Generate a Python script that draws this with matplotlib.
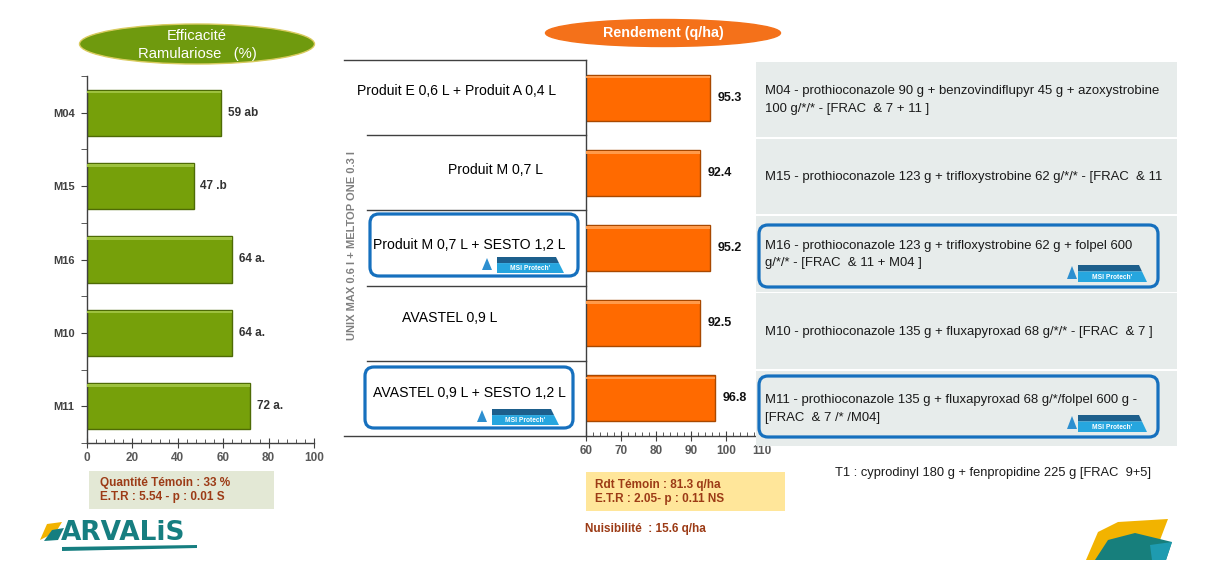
import matplotlib
matplotlib.use("Agg")
import matplotlib.pyplot as plt
from matplotlib.patches import Ellipse, FancyBboxPatch, Polygon, Rectangle
import numpy as np

W, H = 1213, 567

# ---------------- data ----------------
modalities = ["M04", "M15", "M16", "M10", "M11"]
efficacite = [59, 47, 64, 64, 72]
efficacite_labels = ["59 ab", "47 .b", "64 a.", "64 a.", "72 a."]
rendement = [95.3, 92.4, 95.2, 92.5, 96.8]
rendement_labels = ["95.3", "92.4", "95.2", "92.5", "96.8"]
produits = ["Produit E 0,6 L + Produit A 0,4 L", "Produit M 0,7 L",
            "Produit M 0,7 L + SESTO 1,2 L", "AVASTEL 0,9 L",
            "AVASTEL 0,9 L + SESTO 1,2 L"]
compositions = [
    "M04 - prothioconazole 90 g + benzovindiflupyr 45 g + azoxystrobine\n100 g/*/* - [FRAC  & 7 + 11 ]",
    "M15 - prothioconazole 123 g + trifloxystrobine 62 g/*/* - [FRAC  & 11",
    "M16 - prothioconazole 123 g + trifloxystrobine 62 g + folpel 600\ng/*/* - [FRAC  & 11 + M04 ]",
    "M10 - prothioconazole 135 g + fluxapyroxad 68 g/*/* - [FRAC  & 7 ]",
    "M11 - prothioconazole 135 g + fluxapyroxad 68 g/*/folpel 600 g -\n[FRAC  & 7 /* /M04]",
]
msi_protech = [False, False, True, False, True]
eff_ticks = [0, 20, 40, 60, 80, 100]
rdt_ticks = [60, 70, 80, 90, 100, 110]
eff_title = "Efficacité\nRamulariose   (%)"
rdt_title = "Rendement (q/ha)"
t1_text = "T1 : cyprodinyl 180 g + fenpropidine 225 g [FRAC  9+5]"
base_text = "UNIX MAX 0.6 l + MELTOP ONE 0.3 l"
eff_info = "Quantité Témoin : 33 %\nE.T.R : 5.54 - p : 0.01 S"
rdt_info = "Rdt Témoin : 81.3 q/ha\nE.T.R : 2.05- p : 0.11 NS"
nuis_text = "Nuisibilité  : 15.6 q/ha"

FONT = "Liberation Sans"
plt.rcParams["font.family"] = [FONT, "DejaVu Sans"]

fig = plt.figure(figsize=(W / 100, H / 100), dpi=100)
fig.patch.set_facecolor("white")


def rect(x0, y0, x1, y1):
    return [x0 / W, 1 - y1 / H, (x1 - x0) / W, (y1 - y0) / H]


y = np.arange(len(modalities))
dark = "#404040"
tick_col = "#595959"
brown = "#9C3B16"

# ---------------- left chart: efficacité ----------------
ax1 = fig.add_axes(rect(87, 76, 314, 443))
ax1.barh(y, efficacite, height=0.63, color="#76A00A", edgecolor="#4E6B05", linewidth=1.0, zorder=2)
ax1.barh(y - 0.283, efficacite, height=0.035, color="#9DC13E", edgecolor="none", zorder=3)
ax1.set_xlim(0, 100)
ax1.set_ylim(4.5, -0.5)
ax1.set_yticks(y, modalities)
ax1.set_yticks(np.arange(-0.5, 5, 1), minor=True)
ax1.set_xticks(eff_ticks)
ax1.set_xticks(np.arange(0, 101, 4), minor=True)
ax1.tick_params(axis="y", which="both", direction="out", length=4, color=dark, pad=5,
                labelsize=8, labelcolor=dark)
ax1.tick_params(axis="x", which="major", direction="inout", length=7, color=dark,
                labelsize=8.5, labelcolor=tick_col, pad=3)
ax1.tick_params(axis="x", which="minor", direction="in", length=3, color=dark)
for lab in ax1.get_yticklabels() + ax1.get_xticklabels():
    lab.set_fontweight("bold")
for s in ["top", "right"]:
    ax1.spines[s].set_visible(False)
for s in ["left", "bottom"]:
    ax1.spines[s].set_color(dark)
    ax1.spines[s].set_linewidth(1.0)
for i, (v, lab) in enumerate(zip(efficacite, efficacite_labels)):
    ax1.text(v + 3, i, lab, va="center", ha="left", fontsize=8.5, fontweight="bold", color="#333333")
ax1.patch.set_alpha(0)

# ---------------- right chart: rendement ----------------
ax2 = fig.add_axes(rect(586, 60, 761.5, 436))
ax2.barh(y, rendement, height=0.61, color="#FF6A00", edgecolor="#A84800", linewidth=1.0, zorder=2)
ax2.barh(y - 0.273, rendement, height=0.035, color="#FF9A4A", edgecolor="none", zorder=3)
ax2.set_xlim(60, 110)
ax2.set_ylim(4.5, -0.5)
ax2.set_yticks(y, [""] * len(y))
ax2.set_xticks(rdt_ticks)
ax2.set_xticks(np.arange(60, 111, 2), minor=True)
ax2.tick_params(axis="y", which="both", direction="in", length=3, color=dark)
ax2.tick_params(axis="x", which="major", direction="inout", length=7, color=dark,
                labelsize=8.5, labelcolor=tick_col, pad=3)
ax2.tick_params(axis="x", which="minor", direction="in", length=3, color=dark)
for lab in ax2.get_xticklabels():
    lab.set_fontweight("bold")
for s in ["top", "right"]:
    ax2.spines[s].set_visible(False)
for s in ["left", "bottom"]:
    ax2.spines[s].set_color(dark)
    ax2.spines[s].set_linewidth(1.0)
for i, (v, lab) in enumerate(zip(rendement, rendement_labels)):
    ax2.text(v + 2.2, i, lab, va="center", ha="left", fontsize=9, fontweight="bold", color="#111111")
ax2.patch.set_alpha(0)

# ---------------- overlay for decorations ----------------
ov = fig.add_axes([0, 0, 1, 1], zorder=5)
ov.set_xlim(0, W)
ov.set_ylim(H, 0)
ov.axis("off")
ov.patch.set_alpha(0)

# title ellipses
ov.add_patch(Ellipse((197, 44), 235, 40, facecolor="#6F9A0E", edgecolor="#D9CB5E", linewidth=1.0))
ov.text(197, 45, eff_title, ha="center", va="center", color="white", fontsize=10.6, linespacing=1.4)
ov.add_patch(Ellipse((663, 33), 235, 27, facecolor="#F4711A", edgecolor="#F4711A", linewidth=1.0))
ov.text(663, 33, rdt_title, ha="center", va="center", color="white", fontsize=10.3, fontweight="bold")

# table lines (middle)
row_h = (436 - 60) / 5
bounds = [60 + k * row_h for k in range(6)]
ov.plot([344, 586], [bounds[0], bounds[0]], color=dark, lw=1.0)
for b in bounds[1:5]:
    ov.plot([367, 586], [b, b], color=dark, lw=1.0)
ov.plot([344, 586], [bounds[5], bounds[5]], color=dark, lw=1.0)

ov.text(352, 245, base_text, rotation=90, ha="center", va="center", fontsize=8,
        fontweight="bold", color="#7F7F7F")

prod_pos = [(457, 91), (495, 170), (469, 245), (450, 318), (469, 393)]
for (px, py), txt in zip(prod_pos, produits):
    ov.text(px, py, txt, ha="center", va="center", fontsize=10.1, color="black")

blue = "#1670BE"


def rbox(x0, y0, x1, y1):
    ov.add_patch(FancyBboxPatch((x0, y0), x1 - x0, y1 - y0,
                                boxstyle="round,pad=0,rounding_size=9",
                                facecolor="none", edgecolor=blue, linewidth=2.3, zorder=6))


def badge(tx, x0, x1, y0, y1):
    ov.add_patch(Polygon([(tx - 5, y1 - 3), (tx, y0 + 1), (tx + 5, y1 - 3)], closed=True,
                         facecolor="#2D8FD0", edgecolor="none", zorder=7))
    ym = y0 + (y1 - y0) * 0.38
    ov.add_patch(Polygon([(x0, ym), (x0, y0), (x1 - 8, y0), (x1 - 5, ym)], closed=True,
                         facecolor="#1D5F8C", edgecolor="none", zorder=7))
    ov.add_patch(Polygon([(x0, y1), (x0, ym), (x1 - 5, ym), (x1, y1)], closed=True,
                         facecolor="#26A6DF", edgecolor="none", zorder=7))
    ov.text((x0 + x1) / 2, (ym + y1) / 2 + 0.5, "MSI Protech'", ha="center", va="center",
            fontsize=4.8, fontweight="bold", color="white", zorder=8)


# right grey cells
cells = [(62, 137), (139, 214), (216, 292), (293, 369), (371, 446)]
for (c0, c1), txt in zip(cells, compositions):
    ov.add_patch(Rectangle((756, c0), 1177 - 756, c1 - c0, facecolor="#E7ECEB", edgecolor="none", zorder=1))
    ov.text(765, (c0 + c1) / 2 + 0.5, txt, ha="left", va="center", fontsize=9.45,
            color="#1A1A1A", linespacing=1.6, zorder=3)

mid_boxes = [(370, 214, 578, 276), (365, 367, 573, 428)]
right_boxes = [(759, 225, 1158, 287), (759, 376, 1158, 437)]
k = 0
for i, flag in enumerate(msi_protech):
    if flag:
        mx0, my0, mx1, my1 = mid_boxes[k]
        rbox(mx0, my0, mx1, my1)
        badge(mx0 + 117, mx0 + 127, mx1 - 14, my1 - 19, my1 - 3)
        rx0, ry0, rx1, ry1 = right_boxes[k]
        rbox(rx0, ry0, rx1, ry1)
        badge(rx1 - 86, rx1 - 80, rx1 - 11, ry1 - 22, ry1 - 5)
        k += 1

ov.text(835, 473, t1_text, ha="left", va="center", fontsize=9.3, color="#1A1A1A")

# info boxes
ov.add_patch(Rectangle((89, 471), 274 - 89, 509 - 471, facecolor="#E3E8D5", edgecolor="none"))
ov.text(100, 490, eff_info, ha="left", va="center", fontsize=8.5, fontweight="bold",
        color=brown, linespacing=1.25)
ov.add_patch(Rectangle((586, 472), 785 - 586, 511 - 472, facecolor="#FFE69A", edgecolor="none"))
ov.text(595, 492, rdt_info, ha="left", va="center", fontsize=8.5, fontweight="bold",
        color=brown, linespacing=1.25)
ov.text(585, 529, nuis_text, ha="left", va="center", fontsize=8.5, fontweight="bold", color=brown)

# ARVALIS logo
ov.add_patch(Polygon([(40, 540), (47, 524), (62, 522), (56, 532)], closed=True,
                     facecolor="#F2B300", edgecolor="none"))
ov.add_patch(Polygon([(44, 541), (52, 530), (64, 528), (58, 540)], closed=True,
                     facecolor="#167E80", edgecolor="none"))
ov.text(61, 533, "ARVALiS", ha="left", va="center", fontsize=19, fontweight="bold",
        color="#167E80", family="DejaVu Sans")
ov.add_patch(Polygon([(62, 547), (197, 545), (197, 548), (62, 551)], closed=True,
                     facecolor="#167E80", edgecolor="none"))

# right logo
ov.add_patch(Polygon([(1086, 560), (1098, 532), (1118, 522), (1168, 519), (1160, 540),
                      (1120, 545), (1100, 560)], closed=True, facecolor="#F2B300", edgecolor="none"))
ov.add_patch(Polygon([(1095, 560), (1108, 540), (1135, 533), (1172, 542), (1166, 560)],
                     closed=True, facecolor="#177F7C", edgecolor="none"))
ov.add_patch(Polygon([(1150, 545), (1172, 542), (1166, 560), (1152, 560)],
                     closed=True, facecolor="#1E9BB0", edgecolor="none"))

fig.savefig("out.png", dpi=100)
